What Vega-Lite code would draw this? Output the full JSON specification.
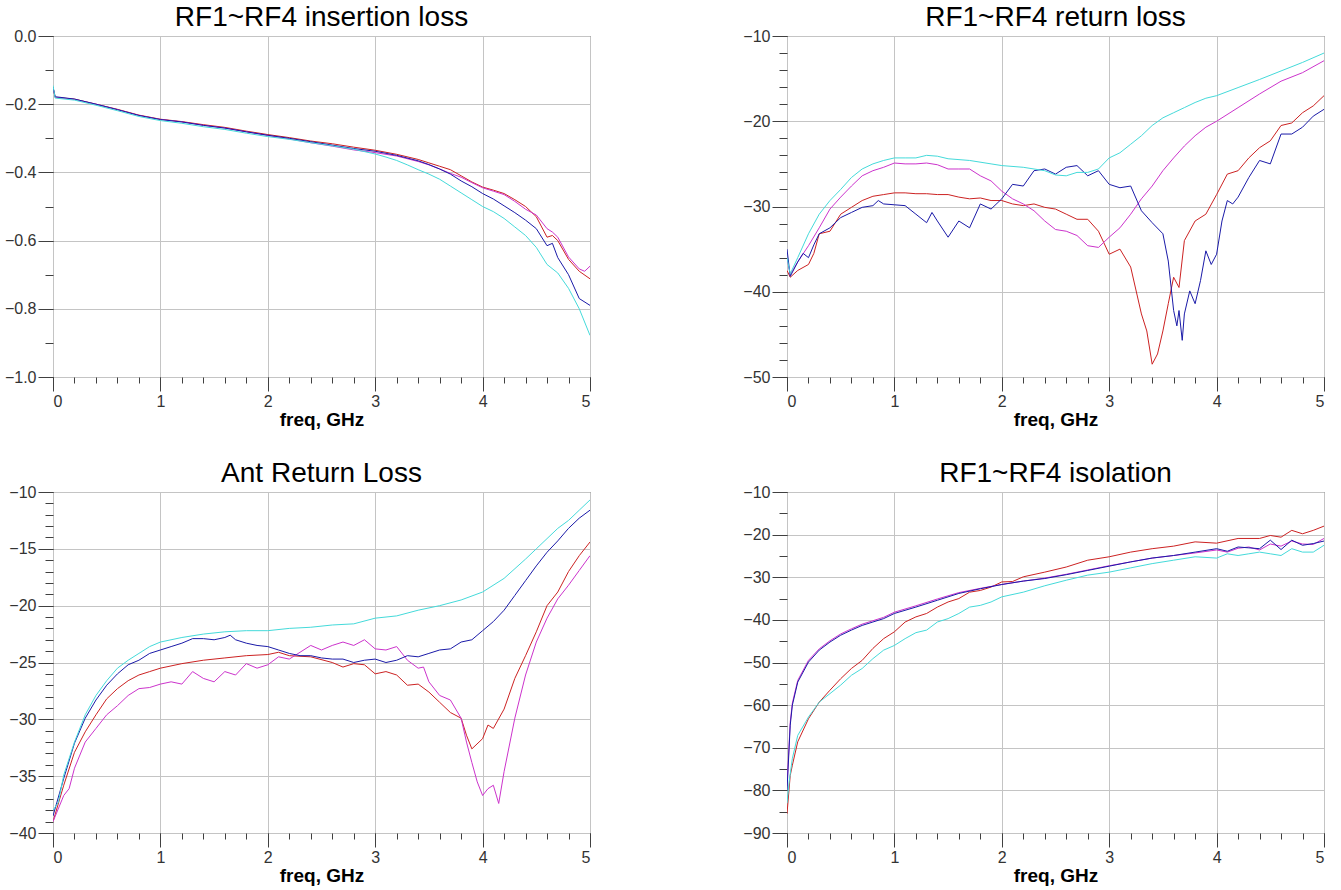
{
"$schema": "https://vega.github.io/schema/vega-lite/v6.json",
"padding": {"left": 3, "top": 3, "right": 5, "bottom": 5},
"background": "white",
"config": {
  "font": "Liberation Sans",
  "view": {"stroke": "#404040", "strokeWidth": 1},
  "axis": {"labelFont": "Liberation Sans", "labelFontSize": 16, "labelColor": "#333333", "tickColor": "#404040", "domain": false, "gridColor": "#c4c4c4", "gridWidth": 1, "titleFont": "Liberation Sans", "titleColor": "#000000"},
  "title": {"fontSize": 28, "fontWeight": "normal", "font": "Liberation Sans", "offset": -4, "color": "#000000"}
},
"datasets": {
"il": [
{"trace":"RF1","freq":0,"value":-0.15},{"trace":"RF1","freq":0.02,"value":-0.18},{"trace":"RF1","freq":0.2,"value":-0.185},{"trace":"RF1","freq":0.4,"value":-0.2},{"trace":"RF1","freq":0.6,"value":-0.215},{"trace":"RF1","freq":0.8,"value":-0.232},{"trace":"RF1","freq":1.0,"value":-0.244},{"trace":"RF1","freq":1.2,"value":-0.251},{"trace":"RF1","freq":1.4,"value":-0.26},{"trace":"RF1","freq":1.6,"value":-0.268},{"trace":"RF1","freq":1.8,"value":-0.279},{"trace":"RF1","freq":2.0,"value":-0.289},{"trace":"RF1","freq":2.2,"value":-0.298},{"trace":"RF1","freq":2.4,"value":-0.308},{"trace":"RF1","freq":2.6,"value":-0.316},{"trace":"RF1","freq":2.8,"value":-0.326},{"trace":"RF1","freq":3.0,"value":-0.335},{"trace":"RF1","freq":3.2,"value":-0.347},{"trace":"RF1","freq":3.4,"value":-0.362},{"trace":"RF1","freq":3.5,"value":-0.372},{"trace":"RF1","freq":3.6,"value":-0.382},{"trace":"RF1","freq":3.7,"value":-0.392},{"trace":"RF1","freq":3.8,"value":-0.41},{"trace":"RF1","freq":3.9,"value":-0.428},{"trace":"RF1","freq":4.0,"value":-0.443},{"trace":"RF1","freq":4.1,"value":-0.452},{"trace":"RF1","freq":4.2,"value":-0.462},{"trace":"RF1","freq":4.3,"value":-0.48},{"trace":"RF1","freq":4.4,"value":-0.5},{"trace":"RF1","freq":4.5,"value":-0.53},{"trace":"RF1","freq":4.55,"value":-0.56},{"trace":"RF1","freq":4.6,"value":-0.59},{"trace":"RF1","freq":4.65,"value":-0.585},{"trace":"RF1","freq":4.7,"value":-0.6},{"trace":"RF1","freq":4.8,"value":-0.655},{"trace":"RF1","freq":4.9,"value":-0.69},{"trace":"RF1","freq":5.0,"value":-0.712},
{"trace":"RF2","freq":0,"value":-0.15},{"trace":"RF2","freq":0.02,"value":-0.18},{"trace":"RF2","freq":0.2,"value":-0.186},{"trace":"RF2","freq":0.4,"value":-0.2},{"trace":"RF2","freq":0.6,"value":-0.216},{"trace":"RF2","freq":0.8,"value":-0.233},{"trace":"RF2","freq":1.0,"value":-0.245},{"trace":"RF2","freq":1.2,"value":-0.252},{"trace":"RF2","freq":1.4,"value":-0.262},{"trace":"RF2","freq":1.6,"value":-0.27},{"trace":"RF2","freq":1.8,"value":-0.281},{"trace":"RF2","freq":2.0,"value":-0.292},{"trace":"RF2","freq":2.2,"value":-0.302},{"trace":"RF2","freq":2.4,"value":-0.313},{"trace":"RF2","freq":2.6,"value":-0.323},{"trace":"RF2","freq":2.8,"value":-0.334},{"trace":"RF2","freq":3.0,"value":-0.342},{"trace":"RF2","freq":3.2,"value":-0.352},{"trace":"RF2","freq":3.4,"value":-0.368},{"trace":"RF2","freq":3.5,"value":-0.378},{"trace":"RF2","freq":3.6,"value":-0.39},{"trace":"RF2","freq":3.7,"value":-0.403},{"trace":"RF2","freq":3.8,"value":-0.414},{"trace":"RF2","freq":3.9,"value":-0.43},{"trace":"RF2","freq":4.0,"value":-0.445},{"trace":"RF2","freq":4.1,"value":-0.455},{"trace":"RF2","freq":4.2,"value":-0.465},{"trace":"RF2","freq":4.3,"value":-0.485},{"trace":"RF2","freq":4.4,"value":-0.508},{"trace":"RF2","freq":4.5,"value":-0.525},{"trace":"RF2","freq":4.6,"value":-0.565},{"trace":"RF2","freq":4.65,"value":-0.575},{"trace":"RF2","freq":4.7,"value":-0.59},{"trace":"RF2","freq":4.8,"value":-0.648},{"trace":"RF2","freq":4.9,"value":-0.683},{"trace":"RF2","freq":4.95,"value":-0.69},{"trace":"RF2","freq":5.0,"value":-0.675},
{"trace":"RF3","freq":0,"value":-0.15},{"trace":"RF3","freq":0.02,"value":-0.178},{"trace":"RF3","freq":0.2,"value":-0.185},{"trace":"RF3","freq":0.4,"value":-0.2},{"trace":"RF3","freq":0.6,"value":-0.216},{"trace":"RF3","freq":0.8,"value":-0.233},{"trace":"RF3","freq":1.0,"value":-0.245},{"trace":"RF3","freq":1.2,"value":-0.252},{"trace":"RF3","freq":1.4,"value":-0.262},{"trace":"RF3","freq":1.6,"value":-0.27},{"trace":"RF3","freq":1.8,"value":-0.281},{"trace":"RF3","freq":2.0,"value":-0.291},{"trace":"RF3","freq":2.2,"value":-0.3},{"trace":"RF3","freq":2.4,"value":-0.31},{"trace":"RF3","freq":2.6,"value":-0.32},{"trace":"RF3","freq":2.8,"value":-0.33},{"trace":"RF3","freq":3.0,"value":-0.338},{"trace":"RF3","freq":3.2,"value":-0.35},{"trace":"RF3","freq":3.4,"value":-0.366},{"trace":"RF3","freq":3.5,"value":-0.377},{"trace":"RF3","freq":3.6,"value":-0.39},{"trace":"RF3","freq":3.7,"value":-0.405},{"trace":"RF3","freq":3.8,"value":-0.425},{"trace":"RF3","freq":3.9,"value":-0.442},{"trace":"RF3","freq":4.0,"value":-0.462},{"trace":"RF3","freq":4.1,"value":-0.478},{"trace":"RF3","freq":4.2,"value":-0.498},{"trace":"RF3","freq":4.3,"value":-0.518},{"trace":"RF3","freq":4.4,"value":-0.54},{"trace":"RF3","freq":4.5,"value":-0.565},{"trace":"RF3","freq":4.6,"value":-0.615},{"trace":"RF3","freq":4.65,"value":-0.608},{"trace":"RF3","freq":4.7,"value":-0.65},{"trace":"RF3","freq":4.8,"value":-0.7},{"trace":"RF3","freq":4.9,"value":-0.77},{"trace":"RF3","freq":5.0,"value":-0.79},
{"trace":"RF4","freq":0,"value":-0.145},{"trace":"RF4","freq":0.02,"value":-0.182},{"trace":"RF4","freq":0.2,"value":-0.188},{"trace":"RF4","freq":0.4,"value":-0.203},{"trace":"RF4","freq":0.6,"value":-0.219},{"trace":"RF4","freq":0.8,"value":-0.236},{"trace":"RF4","freq":1.0,"value":-0.248},{"trace":"RF4","freq":1.2,"value":-0.256},{"trace":"RF4","freq":1.4,"value":-0.266},{"trace":"RF4","freq":1.6,"value":-0.274},{"trace":"RF4","freq":1.8,"value":-0.285},{"trace":"RF4","freq":2.0,"value":-0.295},{"trace":"RF4","freq":2.2,"value":-0.303},{"trace":"RF4","freq":2.4,"value":-0.313},{"trace":"RF4","freq":2.6,"value":-0.322},{"trace":"RF4","freq":2.8,"value":-0.332},{"trace":"RF4","freq":3.0,"value":-0.346},{"trace":"RF4","freq":3.1,"value":-0.355},{"trace":"RF4","freq":3.2,"value":-0.365},{"trace":"RF4","freq":3.3,"value":-0.378},{"trace":"RF4","freq":3.4,"value":-0.392},{"trace":"RF4","freq":3.5,"value":-0.405},{"trace":"RF4","freq":3.6,"value":-0.42},{"trace":"RF4","freq":3.7,"value":-0.44},{"trace":"RF4","freq":3.8,"value":-0.46},{"trace":"RF4","freq":3.9,"value":-0.48},{"trace":"RF4","freq":4.0,"value":-0.5},{"trace":"RF4","freq":4.1,"value":-0.515},{"trace":"RF4","freq":4.2,"value":-0.535},{"trace":"RF4","freq":4.3,"value":-0.56},{"trace":"RF4","freq":4.4,"value":-0.585},{"trace":"RF4","freq":4.5,"value":-0.62},{"trace":"RF4","freq":4.6,"value":-0.67},{"trace":"RF4","freq":4.7,"value":-0.695},{"trace":"RF4","freq":4.8,"value":-0.74},{"trace":"RF4","freq":4.9,"value":-0.8},{"trace":"RF4","freq":5.0,"value":-0.878}
],
"rl": [
{"trace":"RF1","freq":0,"value":-37.5},{"trace":"RF1","freq":0.03,"value":-38.3},{"trace":"RF1","freq":0.1,"value":-37.5},{"trace":"RF1","freq":0.2,"value":-36.8},{"trace":"RF1","freq":0.25,"value":-35.5},{"trace":"RF1","freq":0.3,"value":-33.2},{"trace":"RF1","freq":0.4,"value":-32.9},{"trace":"RF1","freq":0.5,"value":-30.9},{"trace":"RF1","freq":0.6,"value":-30.1},{"trace":"RF1","freq":0.7,"value":-29.3},{"trace":"RF1","freq":0.8,"value":-28.8},{"trace":"RF1","freq":0.9,"value":-28.6},{"trace":"RF1","freq":1.0,"value":-28.4},{"trace":"RF1","freq":1.1,"value":-28.4},{"trace":"RF1","freq":1.2,"value":-28.5},{"trace":"RF1","freq":1.3,"value":-28.5},{"trace":"RF1","freq":1.4,"value":-28.6},{"trace":"RF1","freq":1.5,"value":-28.6},{"trace":"RF1","freq":1.6,"value":-28.9},{"trace":"RF1","freq":1.7,"value":-29.1},{"trace":"RF1","freq":1.8,"value":-29.0},{"trace":"RF1","freq":1.9,"value":-29.3},{"trace":"RF1","freq":2.0,"value":-29.3},{"trace":"RF1","freq":2.1,"value":-29.7},{"trace":"RF1","freq":2.2,"value":-29.9},{"trace":"RF1","freq":2.3,"value":-29.7},{"trace":"RF1","freq":2.4,"value":-30.1},{"trace":"RF1","freq":2.5,"value":-30.3},{"trace":"RF1","freq":2.6,"value":-30.9},{"trace":"RF1","freq":2.7,"value":-31.5},{"trace":"RF1","freq":2.8,"value":-31.5},{"trace":"RF1","freq":2.9,"value":-32.9},{"trace":"RF1","freq":3.0,"value":-35.6},{"trace":"RF1","freq":3.1,"value":-35.0},{"trace":"RF1","freq":3.2,"value":-37.1},{"trace":"RF1","freq":3.3,"value":-42.6},{"trace":"RF1","freq":3.35,"value":-44.6},{"trace":"RF1","freq":3.4,"value":-48.5},{"trace":"RF1","freq":3.45,"value":-47.3},{"trace":"RF1","freq":3.5,"value":-44.6},{"trace":"RF1","freq":3.55,"value":-41.4},{"trace":"RF1","freq":3.6,"value":-38.3},{"trace":"RF1","freq":3.65,"value":-39.5},{"trace":"RF1","freq":3.7,"value":-34.0},{"trace":"RF1","freq":3.8,"value":-31.7},{"trace":"RF1","freq":3.9,"value":-30.9},{"trace":"RF1","freq":4.0,"value":-28.6},{"trace":"RF1","freq":4.1,"value":-26.2},{"trace":"RF1","freq":4.2,"value":-25.8},{"trace":"RF1","freq":4.3,"value":-24.3},{"trace":"RF1","freq":4.4,"value":-23.1},{"trace":"RF1","freq":4.5,"value":-22.3},{"trace":"RF1","freq":4.6,"value":-20.5},{"trace":"RF1","freq":4.7,"value":-20.2},{"trace":"RF1","freq":4.8,"value":-19.0},{"trace":"RF1","freq":4.9,"value":-18.2},{"trace":"RF1","freq":5.0,"value":-17.0},
{"trace":"RF2","freq":0,"value":-36.0},{"trace":"RF2","freq":0.03,"value":-38.0},{"trace":"RF2","freq":0.1,"value":-36.5},{"trace":"RF2","freq":0.2,"value":-34.6},{"trace":"RF2","freq":0.3,"value":-32.5},{"trace":"RF2","freq":0.4,"value":-30.3},{"trace":"RF2","freq":0.5,"value":-28.9},{"trace":"RF2","freq":0.6,"value":-27.6},{"trace":"RF2","freq":0.7,"value":-26.4},{"trace":"RF2","freq":0.8,"value":-25.8},{"trace":"RF2","freq":0.9,"value":-25.4},{"trace":"RF2","freq":1.0,"value":-24.9},{"trace":"RF2","freq":1.1,"value":-25.0},{"trace":"RF2","freq":1.2,"value":-25.0},{"trace":"RF2","freq":1.3,"value":-24.9},{"trace":"RF2","freq":1.4,"value":-25.1},{"trace":"RF2","freq":1.5,"value":-25.6},{"trace":"RF2","freq":1.6,"value":-25.6},{"trace":"RF2","freq":1.7,"value":-25.6},{"trace":"RF2","freq":1.8,"value":-26.4},{"trace":"RF2","freq":1.9,"value":-27.0},{"trace":"RF2","freq":2.0,"value":-28.2},{"trace":"RF2","freq":2.1,"value":-29.1},{"trace":"RF2","freq":2.2,"value":-29.7},{"trace":"RF2","freq":2.3,"value":-30.5},{"trace":"RF2","freq":2.4,"value":-31.7},{"trace":"RF2","freq":2.5,"value":-32.7},{"trace":"RF2","freq":2.6,"value":-32.9},{"trace":"RF2","freq":2.7,"value":-33.4},{"trace":"RF2","freq":2.8,"value":-34.6},{"trace":"RF2","freq":2.9,"value":-34.8},{"trace":"RF2","freq":3.0,"value":-33.6},{"trace":"RF2","freq":3.1,"value":-32.5},{"trace":"RF2","freq":3.2,"value":-30.9},{"trace":"RF2","freq":3.3,"value":-29.1},{"trace":"RF2","freq":3.4,"value":-27.6},{"trace":"RF2","freq":3.5,"value":-25.8},{"trace":"RF2","freq":3.6,"value":-24.3},{"trace":"RF2","freq":3.7,"value":-22.9},{"trace":"RF2","freq":3.8,"value":-21.7},{"trace":"RF2","freq":3.9,"value":-20.7},{"trace":"RF2","freq":4.0,"value":-20.0},{"trace":"RF2","freq":4.2,"value":-18.4},{"trace":"RF2","freq":4.4,"value":-16.8},{"trace":"RF2","freq":4.6,"value":-15.3},{"trace":"RF2","freq":4.8,"value":-14.3},{"trace":"RF2","freq":5.0,"value":-12.9},
{"trace":"RF3","freq":0,"value":-35.0},{"trace":"RF3","freq":0.03,"value":-38.2},{"trace":"RF3","freq":0.1,"value":-36.5},{"trace":"RF3","freq":0.15,"value":-35.5},{"trace":"RF3","freq":0.2,"value":-36.0},{"trace":"RF3","freq":0.25,"value":-34.5},{"trace":"RF3","freq":0.3,"value":-33.2},{"trace":"RF3","freq":0.4,"value":-32.5},{"trace":"RF3","freq":0.5,"value":-31.3},{"trace":"RF3","freq":0.6,"value":-30.7},{"trace":"RF3","freq":0.7,"value":-30.1},{"trace":"RF3","freq":0.8,"value":-29.9},{"trace":"RF3","freq":0.85,"value":-29.3},{"trace":"RF3","freq":0.9,"value":-29.7},{"trace":"RF3","freq":1.0,"value":-29.8},{"trace":"RF3","freq":1.1,"value":-29.9},{"trace":"RF3","freq":1.2,"value":-30.9},{"trace":"RF3","freq":1.3,"value":-31.9},{"trace":"RF3","freq":1.35,"value":-30.7},{"trace":"RF3","freq":1.4,"value":-31.7},{"trace":"RF3","freq":1.5,"value":-33.6},{"trace":"RF3","freq":1.6,"value":-31.7},{"trace":"RF3","freq":1.7,"value":-32.5},{"trace":"RF3","freq":1.8,"value":-29.7},{"trace":"RF3","freq":1.9,"value":-30.3},{"trace":"RF3","freq":2.0,"value":-29.1},{"trace":"RF3","freq":2.1,"value":-27.4},{"trace":"RF3","freq":2.2,"value":-27.6},{"trace":"RF3","freq":2.3,"value":-25.8},{"trace":"RF3","freq":2.4,"value":-25.6},{"trace":"RF3","freq":2.5,"value":-26.2},{"trace":"RF3","freq":2.6,"value":-25.4},{"trace":"RF3","freq":2.7,"value":-25.2},{"trace":"RF3","freq":2.8,"value":-26.4},{"trace":"RF3","freq":2.9,"value":-25.8},{"trace":"RF3","freq":3.0,"value":-27.4},{"trace":"RF3","freq":3.1,"value":-27.8},{"trace":"RF3","freq":3.2,"value":-27.6},{"trace":"RF3","freq":3.3,"value":-30.5},{"trace":"RF3","freq":3.4,"value":-31.9},{"trace":"RF3","freq":3.5,"value":-33.2},{"trace":"RF3","freq":3.55,"value":-36.4},{"trace":"RF3","freq":3.6,"value":-42.2},{"trace":"RF3","freq":3.63,"value":-44.0},{"trace":"RF3","freq":3.65,"value":-42.2},{"trace":"RF3","freq":3.68,"value":-45.7},{"trace":"RF3","freq":3.7,"value":-42.6},{"trace":"RF3","freq":3.75,"value":-39.9},{"trace":"RF3","freq":3.8,"value":-41.4},{"trace":"RF3","freq":3.85,"value":-38.7},{"trace":"RF3","freq":3.9,"value":-35.2},{"trace":"RF3","freq":3.95,"value":-36.8},{"trace":"RF3","freq":4.0,"value":-35.6},{"trace":"RF3","freq":4.05,"value":-31.7},{"trace":"RF3","freq":4.1,"value":-29.3},{"trace":"RF3","freq":4.15,"value":-29.7},{"trace":"RF3","freq":4.2,"value":-28.9},{"trace":"RF3","freq":4.3,"value":-26.6},{"trace":"RF3","freq":4.4,"value":-24.6},{"trace":"RF3","freq":4.5,"value":-25.0},{"trace":"RF3","freq":4.6,"value":-21.5},{"trace":"RF3","freq":4.7,"value":-21.5},{"trace":"RF3","freq":4.8,"value":-20.7},{"trace":"RF3","freq":4.9,"value":-19.4},{"trace":"RF3","freq":5.0,"value":-18.6},
{"trace":"RF4","freq":0,"value":-36.0},{"trace":"RF4","freq":0.03,"value":-37.9},{"trace":"RF4","freq":0.1,"value":-36.0},{"trace":"RF4","freq":0.2,"value":-33.2},{"trace":"RF4","freq":0.3,"value":-30.9},{"trace":"RF4","freq":0.4,"value":-29.3},{"trace":"RF4","freq":0.5,"value":-28.0},{"trace":"RF4","freq":0.6,"value":-26.6},{"trace":"RF4","freq":0.7,"value":-25.6},{"trace":"RF4","freq":0.8,"value":-25.0},{"trace":"RF4","freq":0.9,"value":-24.6},{"trace":"RF4","freq":1.0,"value":-24.3},{"trace":"RF4","freq":1.1,"value":-24.3},{"trace":"RF4","freq":1.2,"value":-24.3},{"trace":"RF4","freq":1.3,"value":-24.0},{"trace":"RF4","freq":1.4,"value":-24.1},{"trace":"RF4","freq":1.5,"value":-24.4},{"trace":"RF4","freq":1.7,"value":-24.6},{"trace":"RF4","freq":1.9,"value":-25.0},{"trace":"RF4","freq":2.0,"value":-25.2},{"trace":"RF4","freq":2.2,"value":-25.4},{"trace":"RF4","freq":2.4,"value":-25.8},{"trace":"RF4","freq":2.5,"value":-26.3},{"trace":"RF4","freq":2.6,"value":-26.4},{"trace":"RF4","freq":2.7,"value":-26.0},{"trace":"RF4","freq":2.8,"value":-26.0},{"trace":"RF4","freq":2.9,"value":-25.6},{"trace":"RF4","freq":3.0,"value":-24.3},{"trace":"RF4","freq":3.1,"value":-23.7},{"trace":"RF4","freq":3.2,"value":-22.7},{"trace":"RF4","freq":3.3,"value":-21.7},{"trace":"RF4","freq":3.4,"value":-20.5},{"trace":"RF4","freq":3.5,"value":-19.6},{"trace":"RF4","freq":3.6,"value":-19.0},{"trace":"RF4","freq":3.7,"value":-18.4},{"trace":"RF4","freq":3.8,"value":-17.8},{"trace":"RF4","freq":3.9,"value":-17.3},{"trace":"RF4","freq":4.0,"value":-17.0},{"trace":"RF4","freq":4.2,"value":-16.05},{"trace":"RF4","freq":4.4,"value":-15.1},{"trace":"RF4","freq":4.6,"value":-14.1},{"trace":"RF4","freq":4.8,"value":-13.1},{"trace":"RF4","freq":5.0,"value":-12.0}
],
"ant": [
{"trace":"RF1","freq":0,"value":-39.0},{"trace":"RF1","freq":0.1,"value":-35.8},{"trace":"RF1","freq":0.2,"value":-32.9},{"trace":"RF1","freq":0.25,"value":-32.0},{"trace":"RF1","freq":0.3,"value":-31.1},{"trace":"RF1","freq":0.4,"value":-29.6},{"trace":"RF1","freq":0.5,"value":-28.2},{"trace":"RF1","freq":0.6,"value":-27.3},{"trace":"RF1","freq":0.7,"value":-26.6},{"trace":"RF1","freq":0.8,"value":-26.1},{"trace":"RF1","freq":0.9,"value":-25.8},{"trace":"RF1","freq":1.0,"value":-25.5},{"trace":"RF1","freq":1.2,"value":-25.1},{"trace":"RF1","freq":1.4,"value":-24.8},{"trace":"RF1","freq":1.6,"value":-24.6},{"trace":"RF1","freq":1.8,"value":-24.4},{"trace":"RF1","freq":2.0,"value":-24.3},{"trace":"RF1","freq":2.1,"value":-24.1},{"trace":"RF1","freq":2.2,"value":-24.4},{"trace":"RF1","freq":2.4,"value":-24.5},{"trace":"RF1","freq":2.6,"value":-25.0},{"trace":"RF1","freq":2.7,"value":-25.4},{"trace":"RF1","freq":2.8,"value":-25.1},{"trace":"RF1","freq":2.9,"value":-25.2},{"trace":"RF1","freq":3.0,"value":-26.0},{"trace":"RF1","freq":3.1,"value":-25.8},{"trace":"RF1","freq":3.2,"value":-26.1},{"trace":"RF1","freq":3.3,"value":-27.0},{"trace":"RF1","freq":3.4,"value":-26.9},{"trace":"RF1","freq":3.5,"value":-27.6},{"trace":"RF1","freq":3.6,"value":-28.5},{"trace":"RF1","freq":3.7,"value":-29.4},{"trace":"RF1","freq":3.8,"value":-29.9},{"trace":"RF1","freq":3.85,"value":-31.4},{"trace":"RF1","freq":3.9,"value":-32.6},{"trace":"RF1","freq":4.0,"value":-31.7},{"trace":"RF1","freq":4.05,"value":-30.5},{"trace":"RF1","freq":4.1,"value":-30.8},{"trace":"RF1","freq":4.2,"value":-29.1},{"trace":"RF1","freq":4.3,"value":-26.4},{"trace":"RF1","freq":4.4,"value":-24.4},{"trace":"RF1","freq":4.5,"value":-22.3},{"trace":"RF1","freq":4.6,"value":-20.0},{"trace":"RF1","freq":4.7,"value":-18.8},{"trace":"RF1","freq":4.8,"value":-17.0},{"trace":"RF1","freq":4.9,"value":-15.6},{"trace":"RF1","freq":5.0,"value":-14.4},
{"trace":"RF2","freq":0,"value":-39.0},{"trace":"RF2","freq":0.1,"value":-36.7},{"trace":"RF2","freq":0.15,"value":-36.1},{"trace":"RF2","freq":0.2,"value":-34.3},{"trace":"RF2","freq":0.3,"value":-32.0},{"trace":"RF2","freq":0.4,"value":-30.8},{"trace":"RF2","freq":0.5,"value":-29.6},{"trace":"RF2","freq":0.6,"value":-28.8},{"trace":"RF2","freq":0.7,"value":-27.9},{"trace":"RF2","freq":0.8,"value":-27.3},{"trace":"RF2","freq":0.9,"value":-27.2},{"trace":"RF2","freq":1.0,"value":-26.9},{"trace":"RF2","freq":1.1,"value":-26.7},{"trace":"RF2","freq":1.2,"value":-26.9},{"trace":"RF2","freq":1.3,"value":-25.8},{"trace":"RF2","freq":1.4,"value":-26.4},{"trace":"RF2","freq":1.5,"value":-26.7},{"trace":"RF2","freq":1.6,"value":-25.8},{"trace":"RF2","freq":1.7,"value":-26.1},{"trace":"RF2","freq":1.8,"value":-25.1},{"trace":"RF2","freq":1.9,"value":-25.5},{"trace":"RF2","freq":2.0,"value":-25.2},{"trace":"RF2","freq":2.1,"value":-24.5},{"trace":"RF2","freq":2.2,"value":-24.7},{"trace":"RF2","freq":2.3,"value":-24.1},{"trace":"RF2","freq":2.4,"value":-23.5},{"trace":"RF2","freq":2.5,"value":-23.9},{"trace":"RF2","freq":2.6,"value":-23.5},{"trace":"RF2","freq":2.7,"value":-23.2},{"trace":"RF2","freq":2.8,"value":-23.5},{"trace":"RF2","freq":2.9,"value":-23.0},{"trace":"RF2","freq":3.0,"value":-23.8},{"trace":"RF2","freq":3.1,"value":-23.9},{"trace":"RF2","freq":3.2,"value":-23.6},{"trace":"RF2","freq":3.3,"value":-24.8},{"trace":"RF2","freq":3.4,"value":-25.5},{"trace":"RF2","freq":3.45,"value":-25.4},{"trace":"RF2","freq":3.5,"value":-26.7},{"trace":"RF2","freq":3.6,"value":-27.9},{"trace":"RF2","freq":3.7,"value":-28.3},{"trace":"RF2","freq":3.8,"value":-29.9},{"trace":"RF2","freq":3.85,"value":-32.0},{"trace":"RF2","freq":3.9,"value":-33.8},{"trace":"RF2","freq":3.95,"value":-35.5},{"trace":"RF2","freq":4.0,"value":-36.7},{"trace":"RF2","freq":4.05,"value":-36.1},{"trace":"RF2","freq":4.1,"value":-35.8},{"trace":"RF2","freq":4.15,"value":-37.4},{"trace":"RF2","freq":4.2,"value":-34.6},{"trace":"RF2","freq":4.3,"value":-29.9},{"trace":"RF2","freq":4.4,"value":-26.1},{"trace":"RF2","freq":4.5,"value":-23.2},{"trace":"RF2","freq":4.6,"value":-21.1},{"trace":"RF2","freq":4.7,"value":-19.4},{"trace":"RF2","freq":4.8,"value":-18.2},{"trace":"RF2","freq":4.9,"value":-16.9},{"trace":"RF2","freq":5.0,"value":-15.6},
{"trace":"RF3","freq":0,"value":-38.5},{"trace":"RF3","freq":0.1,"value":-35.2},{"trace":"RF3","freq":0.2,"value":-32.1},{"trace":"RF3","freq":0.3,"value":-29.9},{"trace":"RF3","freq":0.4,"value":-28.3},{"trace":"RF3","freq":0.5,"value":-27.0},{"trace":"RF3","freq":0.6,"value":-26.0},{"trace":"RF3","freq":0.7,"value":-25.2},{"trace":"RF3","freq":0.8,"value":-24.8},{"trace":"RF3","freq":0.9,"value":-24.2},{"trace":"RF3","freq":1.0,"value":-23.9},{"trace":"RF3","freq":1.1,"value":-23.6},{"trace":"RF3","freq":1.2,"value":-23.3},{"trace":"RF3","freq":1.3,"value":-22.9},{"trace":"RF3","freq":1.4,"value":-22.9},{"trace":"RF3","freq":1.5,"value":-23.0},{"trace":"RF3","freq":1.6,"value":-22.8},{"trace":"RF3","freq":1.65,"value":-22.6},{"trace":"RF3","freq":1.7,"value":-23.0},{"trace":"RF3","freq":1.8,"value":-23.3},{"trace":"RF3","freq":1.9,"value":-23.5},{"trace":"RF3","freq":2.0,"value":-23.6},{"trace":"RF3","freq":2.1,"value":-23.9},{"trace":"RF3","freq":2.2,"value":-24.2},{"trace":"RF3","freq":2.3,"value":-24.4},{"trace":"RF3","freq":2.4,"value":-24.4},{"trace":"RF3","freq":2.5,"value":-24.6},{"trace":"RF3","freq":2.6,"value":-24.7},{"trace":"RF3","freq":2.7,"value":-24.7},{"trace":"RF3","freq":2.8,"value":-25.0},{"trace":"RF3","freq":2.9,"value":-24.8},{"trace":"RF3","freq":3.0,"value":-24.7},{"trace":"RF3","freq":3.1,"value":-25.0},{"trace":"RF3","freq":3.2,"value":-24.8},{"trace":"RF3","freq":3.3,"value":-24.4},{"trace":"RF3","freq":3.4,"value":-24.5},{"trace":"RF3","freq":3.5,"value":-24.2},{"trace":"RF3","freq":3.6,"value":-23.9},{"trace":"RF3","freq":3.7,"value":-23.8},{"trace":"RF3","freq":3.8,"value":-23.2},{"trace":"RF3","freq":3.9,"value":-23.0},{"trace":"RF3","freq":4.0,"value":-22.2},{"trace":"RF3","freq":4.1,"value":-21.4},{"trace":"RF3","freq":4.2,"value":-20.4},{"trace":"RF3","freq":4.3,"value":-19.1},{"trace":"RF3","freq":4.4,"value":-17.8},{"trace":"RF3","freq":4.5,"value":-16.5},{"trace":"RF3","freq":4.6,"value":-15.3},{"trace":"RF3","freq":4.7,"value":-14.3},{"trace":"RF3","freq":4.8,"value":-13.2},{"trace":"RF3","freq":4.9,"value":-12.3},{"trace":"RF3","freq":5.0,"value":-11.6},
{"trace":"RF4","freq":0,"value":-38.0},{"trace":"RF4","freq":0.05,"value":-37.3},{"trace":"RF4","freq":0.1,"value":-34.9},{"trace":"RF4","freq":0.2,"value":-32.0},{"trace":"RF4","freq":0.3,"value":-29.6},{"trace":"RF4","freq":0.4,"value":-27.9},{"trace":"RF4","freq":0.5,"value":-26.6},{"trace":"RF4","freq":0.6,"value":-25.5},{"trace":"RF4","freq":0.7,"value":-24.8},{"trace":"RF4","freq":0.8,"value":-24.2},{"trace":"RF4","freq":0.9,"value":-23.6},{"trace":"RF4","freq":1.0,"value":-23.2},{"trace":"RF4","freq":1.2,"value":-22.8},{"trace":"RF4","freq":1.4,"value":-22.5},{"trace":"RF4","freq":1.6,"value":-22.3},{"trace":"RF4","freq":1.8,"value":-22.2},{"trace":"RF4","freq":2.0,"value":-22.2},{"trace":"RF4","freq":2.2,"value":-22.0},{"trace":"RF4","freq":2.4,"value":-21.9},{"trace":"RF4","freq":2.6,"value":-21.7},{"trace":"RF4","freq":2.8,"value":-21.6},{"trace":"RF4","freq":3.0,"value":-21.1},{"trace":"RF4","freq":3.2,"value":-20.9},{"trace":"RF4","freq":3.4,"value":-20.4},{"trace":"RF4","freq":3.6,"value":-20.0},{"trace":"RF4","freq":3.8,"value":-19.5},{"trace":"RF4","freq":4.0,"value":-18.8},{"trace":"RF4","freq":4.2,"value":-17.6},{"trace":"RF4","freq":4.4,"value":-15.9},{"trace":"RF4","freq":4.5,"value":-15.0},{"trace":"RF4","freq":4.6,"value":-14.1},{"trace":"RF4","freq":4.7,"value":-13.2},{"trace":"RF4","freq":4.8,"value":-12.5},{"trace":"RF4","freq":4.9,"value":-11.6},{"trace":"RF4","freq":5.0,"value":-10.7}
],
"iso": [
{"trace":"RF1","freq":0,"value":-85.5},{"trace":"RF1","freq":0.03,"value":-76.5},{"trace":"RF1","freq":0.05,"value":-74.1},{"trace":"RF1","freq":0.1,"value":-68.6},{"trace":"RF1","freq":0.2,"value":-63.2},{"trace":"RF1","freq":0.3,"value":-59.3},{"trace":"RF1","freq":0.4,"value":-56.5},{"trace":"RF1","freq":0.5,"value":-53.8},{"trace":"RF1","freq":0.6,"value":-51.4},{"trace":"RF1","freq":0.7,"value":-49.5},{"trace":"RF1","freq":0.8,"value":-46.7},{"trace":"RF1","freq":0.9,"value":-44.4},{"trace":"RF1","freq":1.0,"value":-42.8},{"trace":"RF1","freq":1.1,"value":-40.5},{"trace":"RF1","freq":1.2,"value":-39.3},{"trace":"RF1","freq":1.3,"value":-38.5},{"trace":"RF1","freq":1.4,"value":-37.0},{"trace":"RF1","freq":1.5,"value":-35.8},{"trace":"RF1","freq":1.6,"value":-35.0},{"trace":"RF1","freq":1.7,"value":-33.5},{"trace":"RF1","freq":1.8,"value":-33.1},{"trace":"RF1","freq":1.9,"value":-32.3},{"trace":"RF1","freq":2.0,"value":-31.1},{"trace":"RF1","freq":2.1,"value":-31.0},{"trace":"RF1","freq":2.2,"value":-29.9},{"trace":"RF1","freq":2.4,"value":-28.8},{"trace":"RF1","freq":2.6,"value":-27.6},{"trace":"RF1","freq":2.8,"value":-26.0},{"trace":"RF1","freq":3.0,"value":-25.2},{"trace":"RF1","freq":3.2,"value":-24.1},{"trace":"RF1","freq":3.4,"value":-23.3},{"trace":"RF1","freq":3.6,"value":-22.7},{"trace":"RF1","freq":3.8,"value":-21.7},{"trace":"RF1","freq":4.0,"value":-22.0},{"trace":"RF1","freq":4.2,"value":-20.9},{"trace":"RF1","freq":4.4,"value":-20.9},{"trace":"RF1","freq":4.5,"value":-20.2},{"trace":"RF1","freq":4.6,"value":-20.6},{"trace":"RF1","freq":4.7,"value":-19.0},{"trace":"RF1","freq":4.8,"value":-19.8},{"trace":"RF1","freq":4.9,"value":-19.0},{"trace":"RF1","freq":5.0,"value":-18.0},
{"trace":"RF2","freq":0,"value":-79.0},{"trace":"RF2","freq":0.01,"value":-74.0},{"trace":"RF2","freq":0.03,"value":-64.0},{"trace":"RF2","freq":0.05,"value":-59.5},{"trace":"RF2","freq":0.1,"value":-54.2},{"trace":"RF2","freq":0.2,"value":-49.5},{"trace":"RF2","freq":0.3,"value":-46.8},{"trace":"RF2","freq":0.4,"value":-44.9},{"trace":"RF2","freq":0.5,"value":-43.3},{"trace":"RF2","freq":0.6,"value":-42.1},{"trace":"RF2","freq":0.7,"value":-41.0},{"trace":"RF2","freq":0.8,"value":-40.2},{"trace":"RF2","freq":0.9,"value":-39.4},{"trace":"RF2","freq":1.0,"value":-38.2},{"trace":"RF2","freq":1.2,"value":-36.7},{"trace":"RF2","freq":1.4,"value":-35.1},{"trace":"RF2","freq":1.6,"value":-33.6},{"trace":"RF2","freq":1.8,"value":-32.6},{"trace":"RF2","freq":2.0,"value":-31.7},{"trace":"RF2","freq":2.2,"value":-30.9},{"trace":"RF2","freq":2.4,"value":-30.2},{"trace":"RF2","freq":2.6,"value":-29.3},{"trace":"RF2","freq":2.8,"value":-28.3},{"trace":"RF2","freq":3.0,"value":-27.3},{"trace":"RF2","freq":3.2,"value":-26.4},{"trace":"RF2","freq":3.4,"value":-25.5},{"trace":"RF2","freq":3.6,"value":-24.9},{"trace":"RF2","freq":3.8,"value":-24.3},{"trace":"RF2","freq":4.0,"value":-23.6},{"trace":"RF2","freq":4.1,"value":-24.1},{"trace":"RF2","freq":4.2,"value":-23.2},{"trace":"RF2","freq":4.3,"value":-22.9},{"trace":"RF2","freq":4.4,"value":-23.6},{"trace":"RF2","freq":4.5,"value":-22.2},{"trace":"RF2","freq":4.6,"value":-22.7},{"trace":"RF2","freq":4.7,"value":-21.5},{"trace":"RF2","freq":4.8,"value":-22.2},{"trace":"RF2","freq":4.9,"value":-22.3},{"trace":"RF2","freq":5.0,"value":-20.9},
{"trace":"RF3","freq":0,"value":-80.0},{"trace":"RF3","freq":0.01,"value":-75.0},{"trace":"RF3","freq":0.03,"value":-64.7},{"trace":"RF3","freq":0.05,"value":-60.0},{"trace":"RF3","freq":0.1,"value":-54.6},{"trace":"RF3","freq":0.2,"value":-49.9},{"trace":"RF3","freq":0.3,"value":-47.1},{"trace":"RF3","freq":0.4,"value":-45.2},{"trace":"RF3","freq":0.5,"value":-43.6},{"trace":"RF3","freq":0.6,"value":-42.4},{"trace":"RF3","freq":0.7,"value":-41.3},{"trace":"RF3","freq":0.8,"value":-40.5},{"trace":"RF3","freq":0.9,"value":-39.7},{"trace":"RF3","freq":1.0,"value":-38.5},{"trace":"RF3","freq":1.2,"value":-37.0},{"trace":"RF3","freq":1.4,"value":-35.4},{"trace":"RF3","freq":1.6,"value":-33.8},{"trace":"RF3","freq":1.8,"value":-32.7},{"trace":"RF3","freq":2.0,"value":-31.7},{"trace":"RF3","freq":2.2,"value":-30.9},{"trace":"RF3","freq":2.4,"value":-30.3},{"trace":"RF3","freq":2.6,"value":-29.4},{"trace":"RF3","freq":2.8,"value":-28.4},{"trace":"RF3","freq":3.0,"value":-27.4},{"trace":"RF3","freq":3.2,"value":-26.4},{"trace":"RF3","freq":3.4,"value":-25.5},{"trace":"RF3","freq":3.6,"value":-24.9},{"trace":"RF3","freq":3.8,"value":-24.1},{"trace":"RF3","freq":4.0,"value":-23.3},{"trace":"RF3","freq":4.1,"value":-23.9},{"trace":"RF3","freq":4.2,"value":-22.9},{"trace":"RF3","freq":4.3,"value":-23.1},{"trace":"RF3","freq":4.4,"value":-23.3},{"trace":"RF3","freq":4.5,"value":-21.3},{"trace":"RF3","freq":4.6,"value":-23.5},{"trace":"RF3","freq":4.7,"value":-21.3},{"trace":"RF3","freq":4.8,"value":-22.5},{"trace":"RF3","freq":4.9,"value":-22.1},{"trace":"RF3","freq":5.0,"value":-21.5},
{"trace":"RF4","freq":0,"value":-83.0},{"trace":"RF4","freq":0.02,"value":-78.0},{"trace":"RF4","freq":0.05,"value":-72.5},{"trace":"RF4","freq":0.1,"value":-67.1},{"trace":"RF4","freq":0.2,"value":-62.8},{"trace":"RF4","freq":0.3,"value":-59.3},{"trace":"RF4","freq":0.4,"value":-57.3},{"trace":"RF4","freq":0.5,"value":-55.3},{"trace":"RF4","freq":0.6,"value":-53.0},{"trace":"RF4","freq":0.7,"value":-51.4},{"trace":"RF4","freq":0.8,"value":-49.1},{"trace":"RF4","freq":0.9,"value":-47.1},{"trace":"RF4","freq":1.0,"value":-46.0},{"trace":"RF4","freq":1.1,"value":-44.4},{"trace":"RF4","freq":1.2,"value":-43.0},{"trace":"RF4","freq":1.3,"value":-42.4},{"trace":"RF4","freq":1.4,"value":-40.5},{"trace":"RF4","freq":1.5,"value":-39.7},{"trace":"RF4","freq":1.6,"value":-38.5},{"trace":"RF4","freq":1.7,"value":-37.0},{"trace":"RF4","freq":1.8,"value":-36.6},{"trace":"RF4","freq":1.9,"value":-35.8},{"trace":"RF4","freq":2.0,"value":-34.6},{"trace":"RF4","freq":2.2,"value":-33.5},{"trace":"RF4","freq":2.4,"value":-32.0},{"trace":"RF4","freq":2.6,"value":-30.7},{"trace":"RF4","freq":2.8,"value":-29.5},{"trace":"RF4","freq":3.0,"value":-28.8},{"trace":"RF4","freq":3.2,"value":-27.8},{"trace":"RF4","freq":3.4,"value":-26.8},{"trace":"RF4","freq":3.6,"value":-26.0},{"trace":"RF4","freq":3.8,"value":-25.2},{"trace":"RF4","freq":4.0,"value":-25.5},{"trace":"RF4","freq":4.1,"value":-24.5},{"trace":"RF4","freq":4.2,"value":-24.9},{"trace":"RF4","freq":4.3,"value":-24.5},{"trace":"RF4","freq":4.4,"value":-24.1},{"trace":"RF4","freq":4.5,"value":-24.5},{"trace":"RF4","freq":4.6,"value":-24.9},{"trace":"RF4","freq":4.7,"value":-23.3},{"trace":"RF4","freq":4.8,"value":-24.1},{"trace":"RF4","freq":4.9,"value":-24.1},{"trace":"RF4","freq":5.0,"value":-22.5}
]
},
"columns": 2,
"spacing": {"row": 115, "column": 197},
"bounds": "flush",
"concat": [
{
 "title": "RF1~RF4 insertion loss",
 "width": 537, "height": 341,
 "data": {"name": "il"},
 "layer": [
  {"mark": {"type": "line", "strokeWidth": 1, "clip": true},
   "encoding": {
    "x": {"field": "freq", "type": "quantitative", "scale": {"domain": [0, 5], "nice": false},
          "axis": {"values": [0,1,2,3,4,5], "format": "d", "tickSize": 14, "labelPadding": 2, "grid": true, "title": "freq, GHz", "titleFontSize": 19, "titleFontWeight": "bold", "titlePadding": 1}},
    "y": {"field": "value", "type": "quantitative", "scale": {"domain": [-1, 0], "nice": false},
          "axis": {"values": [0,-0.2,-0.4,-0.6,-0.8,-1], "format": ".1f", "tickSize": 15, "labelPadding": 2, "grid": true, "title": null}},
    "color": {"field": "trace", "type": "nominal", "scale": {"domain": ["RF1","RF2","RF3","RF4"], "range": ["#cc2222","#cc33cc","#1a1aa8","#44dada"]}, "legend": null}
   }},
  {"mark": {"type": "line", "opacity": 0},
   "encoding": {
    "x": {"field": "freq", "type": "quantitative", "axis": {"orient": "bottom", "values": [0,0.2,0.4,0.6,0.8,1,1.2,1.4,1.6,1.8,2,2.2,2.4,2.6,2.8,3,3.2,3.4,3.6,3.8,4,4.2,4.4,4.6,4.8,5], "tickSize": 6, "labels": false, "grid": false, "title": null}},
    "y": {"field": "value", "type": "quantitative", "axis": {"orient": "left", "values": [0,-0.1,-0.2,-0.3,-0.4,-0.5,-0.6,-0.7,-0.8,-0.9,-1], "tickSize": 8, "labels": false, "grid": false, "title": null}},
    "detail": {"field": "trace"}
   }}
 ],
 "resolve": {"axis": {"x": "independent", "y": "independent"}}
},
{
 "title": "RF1~RF4 return loss",
 "width": 537, "height": 341,
 "data": {"name": "rl"},
 "layer": [
  {"mark": {"type": "line", "strokeWidth": 1, "clip": true},
   "encoding": {
    "x": {"field": "freq", "type": "quantitative", "scale": {"domain": [0, 5], "nice": false},
          "axis": {"values": [0,1,2,3,4,5], "format": "d", "tickSize": 14, "labelPadding": 2, "grid": true, "title": "freq, GHz", "titleFontSize": 19, "titleFontWeight": "bold", "titlePadding": 1}},
    "y": {"field": "value", "type": "quantitative", "scale": {"domain": [-50, -10], "nice": false},
          "axis": {"values": [-10,-20,-30,-40,-50], "format": "d", "tickSize": 15, "labelPadding": 2, "grid": true, "title": null}},
    "color": {"field": "trace", "type": "nominal", "scale": {"domain": ["RF1","RF2","RF3","RF4"], "range": ["#cc2222","#cc33cc","#1a1aa8","#44dada"]}, "legend": null}
   }},
  {"mark": {"type": "line", "opacity": 0},
   "encoding": {
    "x": {"field": "freq", "type": "quantitative", "axis": {"orient": "bottom", "values": [0,0.2,0.4,0.6,0.8,1,1.2,1.4,1.6,1.8,2,2.2,2.4,2.6,2.8,3,3.2,3.4,3.6,3.8,4,4.2,4.4,4.6,4.8,5], "tickSize": 6, "labels": false, "grid": false, "title": null}},
    "y": {"field": "value", "type": "quantitative", "axis": {"orient": "left", "values": [-10,-12,-14,-16,-18,-20,-22,-24,-26,-28,-30,-32,-34,-36,-38,-40,-42,-44,-46,-48,-50], "tickSize": 8, "labels": false, "grid": false, "title": null}},
    "detail": {"field": "trace"}
   }}
 ],
 "resolve": {"axis": {"x": "independent", "y": "independent"}}
},
{
 "title": "Ant Return Loss",
 "width": 537, "height": 341,
 "data": {"name": "ant"},
 "layer": [
  {"mark": {"type": "line", "strokeWidth": 1, "clip": true},
   "encoding": {
    "x": {"field": "freq", "type": "quantitative", "scale": {"domain": [0, 5], "nice": false},
          "axis": {"values": [0,1,2,3,4,5], "format": "d", "tickSize": 14, "labelPadding": 2, "grid": true, "title": "freq, GHz", "titleFontSize": 19, "titleFontWeight": "bold", "titlePadding": 1}},
    "y": {"field": "value", "type": "quantitative", "scale": {"domain": [-40, -10], "nice": false},
          "axis": {"values": [-10,-15,-20,-25,-30,-35,-40], "format": "d", "tickSize": 15, "labelPadding": 2, "grid": true, "title": null}},
    "color": {"field": "trace", "type": "nominal", "scale": {"domain": ["RF1","RF2","RF3","RF4"], "range": ["#cc2222","#cc33cc","#1a1aa8","#44dada"]}, "legend": null}
   }},
  {"mark": {"type": "line", "opacity": 0},
   "encoding": {
    "x": {"field": "freq", "type": "quantitative", "axis": {"orient": "bottom", "values": [0,0.2,0.4,0.6,0.8,1,1.2,1.4,1.6,1.8,2,2.2,2.4,2.6,2.8,3,3.2,3.4,3.6,3.8,4,4.2,4.4,4.6,4.8,5], "tickSize": 6, "labels": false, "grid": false, "title": null}},
    "y": {"field": "value", "type": "quantitative", "axis": {"orient": "left", "values": [-10,-11,-12,-13,-14,-15,-16,-17,-18,-19,-20,-21,-22,-23,-24,-25,-26,-27,-28,-29,-30,-31,-32,-33,-34,-35,-36,-37,-38,-39,-40], "tickSize": 8, "labels": false, "grid": false, "title": null}},
    "detail": {"field": "trace"}
   }}
 ],
 "resolve": {"axis": {"x": "independent", "y": "independent"}}
},
{
 "title": "RF1~RF4 isolation",
 "width": 537, "height": 341,
 "data": {"name": "iso"},
 "layer": [
  {"mark": {"type": "line", "strokeWidth": 1, "clip": true},
   "encoding": {
    "x": {"field": "freq", "type": "quantitative", "scale": {"domain": [0, 5], "nice": false},
          "axis": {"values": [0,1,2,3,4,5], "format": "d", "tickSize": 14, "labelPadding": 2, "grid": true, "title": "freq, GHz", "titleFontSize": 19, "titleFontWeight": "bold", "titlePadding": 1}},
    "y": {"field": "value", "type": "quantitative", "scale": {"domain": [-90, -10], "nice": false},
          "axis": {"values": [-10,-20,-30,-40,-50,-60,-70,-80,-90], "format": "d", "tickSize": 15, "labelPadding": 2, "grid": true, "title": null}},
    "color": {"field": "trace", "type": "nominal", "scale": {"domain": ["RF1","RF2","RF3","RF4"], "range": ["#cc2222","#cc33cc","#1a1aa8","#44dada"]}, "legend": null}
   }},
  {"mark": {"type": "line", "opacity": 0},
   "encoding": {
    "x": {"field": "freq", "type": "quantitative", "axis": {"orient": "bottom", "values": [0,0.2,0.4,0.6,0.8,1,1.2,1.4,1.6,1.8,2,2.2,2.4,2.6,2.8,3,3.2,3.4,3.6,3.8,4,4.2,4.4,4.6,4.8,5], "tickSize": 6, "labels": false, "grid": false, "title": null}},
    "y": {"field": "value", "type": "quantitative", "axis": {"orient": "left", "values": [-10,-15,-20,-25,-30,-35,-40,-45,-50,-55,-60,-65,-70,-75,-80,-85,-90], "tickSize": 8, "labels": false, "grid": false, "title": null}},
    "detail": {"field": "trace"}
   }}
 ],
 "resolve": {"axis": {"x": "independent", "y": "independent"}}
}
]
}
